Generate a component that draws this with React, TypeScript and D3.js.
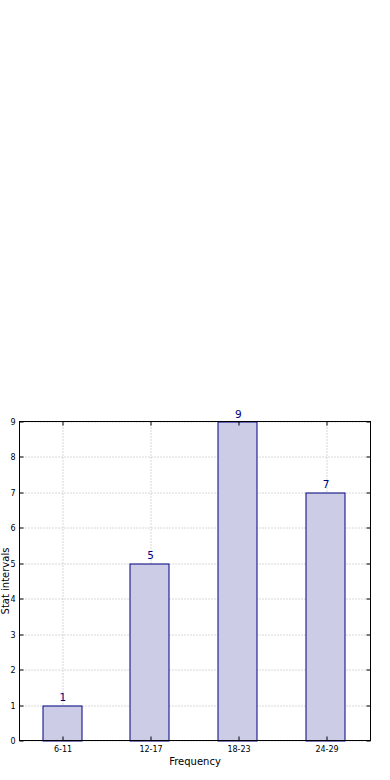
import React from 'react';
import * as d3 from 'd3';

// chart data
const intervals = ['6-11', '12-17', '18-23', '24-29'];
const frequencies = [1, 5, 9, 7];
const yTicks = [0, 1, 2, 3, 4, 5, 6, 7, 8, 9];

const WIDTH = 390;
const HEIGHT = 780;
const margin = { top: 421.5, right: 19.5, bottom: 39.5, left: 19.5 };
const FONT = 'DejaVu Sans, sans-serif';

const App = () => {
  const innerW = WIDTH - margin.left - margin.right;
  const innerH = HEIGHT - margin.top - margin.bottom;

  const xScale = d3
    .scaleBand()
    .domain(intervals)
    .range([0, innerW])
    .paddingInner(0.55)
    .paddingOuter(0.275);
  const yScale = d3.scaleLinear().domain([0, 9]).range([innerH, 0]);

  const centre = (d: string) => (xScale(d) as number) + xScale.bandwidth() / 2;

  return (
    <svg
      width={WIDTH}
      height={HEIGHT}
      style={{ position: 'absolute', left: 0, top: 0, background: '#fff' }}
    >
      <g transform={`translate(${margin.left}, ${margin.top})`}>
        {/* grid */}
        {yTicks.map((t) => (
          <line
            key={`gy${t}`}
            x1={0}
            x2={innerW}
            y1={Math.round(yScale(t)) + 0.5}
            y2={Math.round(yScale(t)) + 0.5}
            stroke="#b0b0b0"
            strokeWidth={1}
            strokeDasharray="1,2"
          />
        ))}
        {intervals.map((d) => (
          <line
            key={`gx${d}`}
            x1={Math.floor(centre(d)) + 0.5}
            x2={Math.floor(centre(d)) + 0.5}
            y1={0}
            y2={innerH}
            stroke="#b0b0b0"
            strokeWidth={1}
            strokeDasharray="1,2"
          />
        ))}

        {/* bars */}
        {intervals.map((d, i) => (
          <rect
            key={`b${d}`}
            x={Math.floor(xScale(d) as number) - 0.5}
            y={Math.round(yScale(frequencies[i])) + 0.5}
            width={Math.round(xScale.bandwidth())}
            height={innerH - Math.round(yScale(frequencies[i]))}
            fill="rgb(204,204,230)"
            stroke="#000080"
            strokeWidth={1}
          />
        ))}

        {/* value labels */}
        {intervals.map((d, i) => (
          <text
            key={`v${d}`}
            x={centre(d) - 0.5}
            y={yScale(frequencies[i]) - 4}
            textAnchor="middle"
            fontFamily={FONT}
            fontSize={10.5}
            fill="#000080"
          >
            {frequencies[i]}
          </text>
        ))}

        {/* frame */}
        <rect
          x={0}
          y={0}
          width={innerW}
          height={innerH}
          fill="none"
          stroke="#000"
          strokeWidth={1}
        />

        {/* y ticks */}
        {yTicks.map((t) => (
          <g key={`ty${t}`} transform={`translate(0, ${Math.round(yScale(t)) + 0.5})`}>
            <line x1={0} x2={4} stroke="#000" />
            <line x1={innerW - 4} x2={innerW} stroke="#000" />
            <text
              x={-4}
              dy="0.32em"
              textAnchor="end"
              fontFamily={FONT}
              fontSize={8}
              fill="#000"
            >
              {t}
            </text>
          </g>
        ))}

        {/* x ticks */}
        {intervals.map((d) => (
          <g key={`tx${d}`} transform={`translate(${Math.floor(centre(d)) + 0.5}, 0)`}>
            <line y1={innerH} y2={innerH - 4} stroke="#000" />
            <line y1={0} y2={4} stroke="#000" />
            <text
              y={innerH + 11}
              textAnchor="middle"
              fontFamily={FONT}
              fontSize={8}
              fill="#000"
            >
              {d}
            </text>
          </g>
        ))}

        {/* axis titles */}
        <text
          x={innerW / 2}
          y={innerH + 24}
          textAnchor="middle"
          fontFamily={FONT}
          fontSize={10}
          fill="#000"
        >
          Frequency
        </text>
        <text
          transform={`translate(${-10.5}, ${innerH / 2}) rotate(-90)`}
          textAnchor="middle"
          fontFamily={FONT}
          fontSize={10}
          fill="#000"
        >
          Stat intervals
        </text>
      </g>
    </svg>
  );
};

export default App;
